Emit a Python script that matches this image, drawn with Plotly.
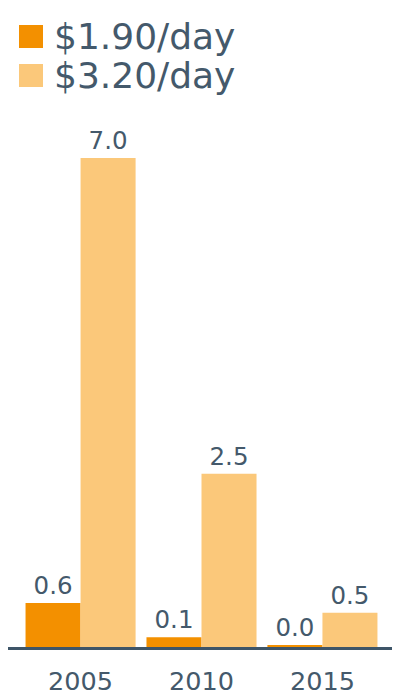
import plotly.graph_objects as go

years = ["2005", "2010", "2015"]
rate_190 = [0.63, 0.14, 0.02]
rate_320 = [7.0, 2.48, 0.49]
series_names = ["$1.90/day", "$3.20/day"]
colors = ["#F39000", "#FBC87A"]
text_color = "#44596B"
axis_color = "#3E5568"

OFF = 8  # page body offset
L, R, T, B = 0, 13, 122, 61
W, H = 400, 700
pw, ph = W - L - R, H - T - B

def px_x(px):
    return (px - OFF - L) / pw

def px_y(py):
    return (OFF + T + ph - py) / ph

fig = go.Figure()
for name, vals, col in zip(series_names, [rate_190, rate_320], colors):
    fig.add_trace(go.Bar(
        x=years, y=vals, name=name, marker_color=col, marker_line_width=0,
        texttemplate="%{y:.1f}", textposition="outside",
        textfont=dict(size=24.5, color=text_color, family="DejaVu Sans"),
        cliponaxis=False, showlegend=False,
    ))

shapes = []
annotations = []
legend_rows = [(25, 48), (64, 87)]
for (y0, y1), name, col in zip(legend_rows, series_names, colors):
    shapes.append(dict(type="rect", xref="paper", yref="paper",
                       x0=px_x(19), x1=px_x(43), y0=px_y(y1), y1=px_y(y0),
                       fillcolor=col, line_width=0))
    annotations.append(dict(xref="paper", yref="paper", x=px_x(52), y=px_y((y0 + y1) / 2),
                            text=name, showarrow=False, xanchor="left", yanchor="middle",
                            font=dict(size=36, color=text_color, family="DejaVu Sans")))

fig.update_layout(
    width=W, height=H,
    margin=dict(l=L, r=R, t=T, b=B),
    paper_bgcolor="white", plot_bgcolor="white",
    barmode="group", bargap=0.09, bargroupgap=0,
    shapes=shapes, annotations=annotations,
    font=dict(family="DejaVu Sans", color=text_color),
    xaxis=dict(range=[-0.6, 2.6], showline=True, linecolor=axis_color, linewidth=3,
               showgrid=False, ticks="outside", ticklen=9, tickcolor="rgba(0,0,0,0)",
               tickfont=dict(size=25.5, color=text_color, family="DejaVu Sans")),
    yaxis=dict(range=[0, 7.4], visible=False, showgrid=False, zeroline=False),
)

fig.write_html("out.html")
